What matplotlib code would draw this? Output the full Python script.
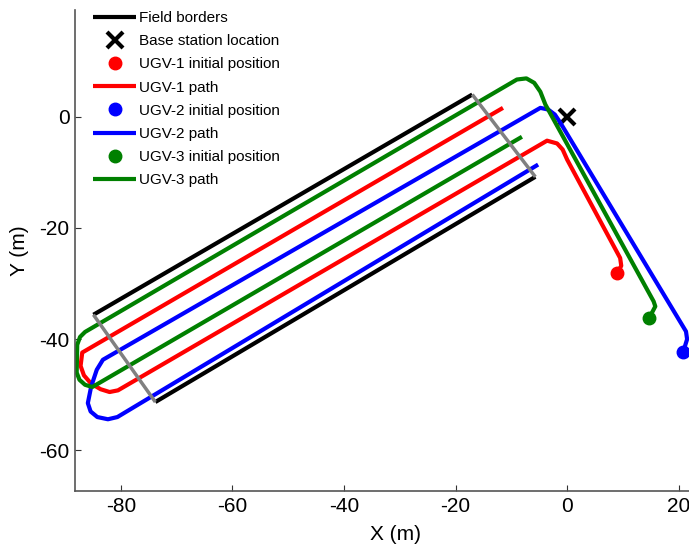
import matplotlib
matplotlib.use("Agg")
import matplotlib.pyplot as plt
import numpy as np

plt.rcParams['font.family'] = ['Liberation Sans', 'DejaVu Sans']
plt.rcParams['axes.unicode_minus'] = False

# field borders (long sides black, short sides gray)
field_x = [-84.9, -17.0, np.nan, -5.7, -73.8]
field_y = [-35.6, 4.0, np.nan, -10.8, -51.3]
edge_x = [-17.0, -5.7, np.nan, -73.8, -84.9]
edge_y = [4.0, -10.8, np.nan, -51.3, -35.6]

base_x = [0.0]
base_y = [0.0]

# UGV-1
ugv1_start_x = [9.0]
ugv1_start_y = [-28.1]
ugv1_x = [9.0, 9.7, 9.5, 0.0, -0.8, -1.8, -3.6, -80.5, -82.0, -83.6, -85.3, -86.6, -87.2, -86.9, -11.5]
ugv1_y = [-28.1, -26.8, -25.4, -7.7, -5.9, -4.8, -4.3, -49.2, -49.5, -49.0, -48.0, -46.5, -44.8, -42.4, 1.6]

# UGV-2
ugv2_start_x = [20.8]
ugv2_start_y = [-42.3]
ugv2_x = [20.8, 21.5, 21.3, -1.2, -2.2, -3.4, -4.8, -83.2, -84.3, -85.3, -85.9, -85.4, -84.2, -82.3, -80.6, -5.2]
ugv2_y = [-42.3, -40.0, -38.6, -1.1, 0.4, 1.3, 1.6, -43.7, -45.5, -48.5, -51.5, -53.0, -54.0, -54.4, -54.0, -8.6]

# UGV-3
ugv3_start_x = [14.7]
ugv3_start_y = [-36.2]
ugv3_x = [14.7, 15.8, 15.5, -3.9, -4.8, -5.9, -7.3, -9.0, -86.4, -87.3, -87.8, -87.9, -87.4, -86.4, -85.1, -8.1]
ugv3_y = [-36.2, -34.1, -33.2, 2.2, 4.5, 6.1, 6.9, 6.7, -38.7, -39.6, -41.0, -46.0, -47.3, -48.2, -48.6, -3.6]

xticks = [-80, -60, -40, -20, 0, 20]
yticks = [-60, -40, -20, 0]

fig = plt.figure(figsize=(6.89, 5.45), dpi=100)
ax = fig.add_axes([75 / 689, 1 - 491 / 545, (715 - 75) / 689, (491 - 10) / 545])

green = '#008000'
lw = 3.0
kw = dict(solid_joinstyle='round', solid_capstyle='butt')

ax.plot(field_x, field_y, color='black', lw=lw, label='Field borders', **kw)
ax.plot(base_x, base_y, 'x', color='black', ms=12, mew=3, label='Base station location')

ax.plot(ugv1_start_x, ugv1_start_y, 'o', color='red', ms=9, label='UGV-1 initial position')
ax.plot(ugv1_x, ugv1_y, color='red', lw=lw, label='UGV-1 path', **kw)
ax.plot(ugv2_start_x, ugv2_start_y, 'o', color='blue', ms=9, label='UGV-2 initial position')
ax.plot(ugv2_x, ugv2_y, color='blue', lw=lw, label='UGV-2 path', **kw)
ax.plot(ugv3_start_x, ugv3_start_y, 'o', color=green, ms=9, label='UGV-3 initial position')
ax.plot(ugv3_x, ugv3_y, color=green, lw=lw, label='UGV-3 path', **kw)

ax.plot(edge_x, edge_y, color='#808080', lw=2.5, zorder=5, **kw)

ax.set_xlim(-88.2, 26.5)
ax.set_ylim(-67.3, 19.2)
ax.set_xticks(xticks)
ax.set_yticks(yticks)
ax.tick_params(direction='in', length=4, labelsize=15, colors='#333333', labelcolor='black', pad=4)
for s in ['top', 'right']:
    ax.spines[s].set_visible(False)
for s in ['left', 'bottom']:
    ax.spines[s].set_color('#555555')
    ax.spines[s].set_linewidth(1.2)

ax.set_xlabel('X (m)', fontsize=15, labelpad=7)
ax.set_ylabel('Y (m)', fontsize=15, labelpad=7)

ax.legend(loc='upper left', bbox_to_anchor=(0.0, 1.036), frameon=False, fontsize=11,
          handlelength=2.8, handletextpad=0.2, labelspacing=0.6, borderaxespad=0.8)

fig.savefig('out.png', dpi=100)
